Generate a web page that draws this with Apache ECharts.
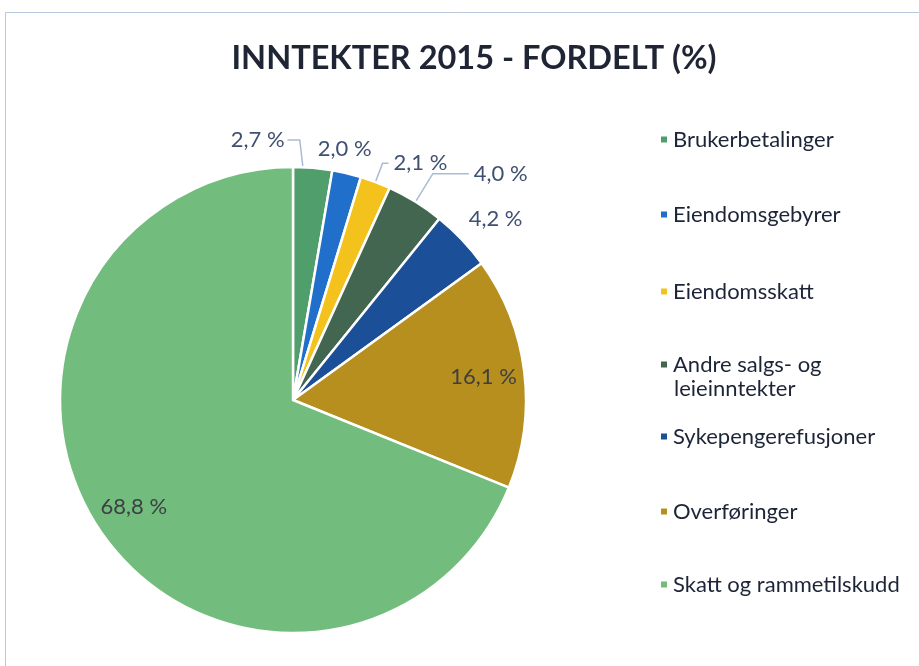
<!DOCTYPE html>
<html>
<head>
<meta charset="utf-8">
<script src="https://cdn.jsdelivr.net/npm/echarts@6/dist/echarts.min.js"></script>
<style>
  html, body { margin: 0; padding: 0; background: #fff; }
  #chart { width: 919px; height: 666px; }
</style>
</head>
<body>
<div id="chart"></div>
<script>
// data
var categories = ['Brukerbetalinger', 'Eiendomsgebyrer', 'Eiendomsskatt',
  'Andre salgs- og leieinntekter', 'Sykepengerefusjoner', 'Overføringer', 'Skatt og rammetilskudd'];
var shares = [2.7, 2.0, 2.1, 4.0, 4.2, 16.1, 68.8];
var colors = ['#4f9e6c', '#1f6fcb', '#f4c21c', '#436650', '#1b4f97', '#b68f1f', '#72bd7d'];
var legendTops = [126, 201, 278, 351, 423, 498, 571];

// etikett-justering for de små sektorene (stil, ikke data)
var labelTweak = [
  { length: 12, length2: 0, line: true, dx: -88, dy: -16, flip: true },
  { length: 0, length2: 0, line: false, dx: -34, dy: -24 },
  { length: 20, length2: 6, line: true, dx: 0, dy: 0 },
  { length: 33, length2: 36, line: true, dx: 0, dy: 0 },
  { length: 12, length2: 0, line: false, dx: -7, dy: -12 }
];

function pct(v) {
  return v.toFixed(1).replace('.', ',') + ' %';
}

var chart = echarts.init(document.getElementById('chart'));

var pieData = categories.map(function (name, i) {
  var item = { name: name, value: shares[i], itemStyle: { color: colors[i] } };
  var t = labelTweak[i];
  if (t) {
    item.labelLine = { show: t.line, length: t.length, length2: t.length2 };
  } else {
    item.label = { show: false };
    item.labelLine = { show: false };
  }
  return item;
});

var legendFont = { fontFamily: 'Lato', fontSize: 22, color: '#1c2438', lineHeight: 27 };

// egne legend-komponenter, en per kategori
var legends = categories.map(function (name, i) {
  return {
    data: [name],
    left: 659,
    top: legendTops[i],
    padding: 0,
    icon: 'rect',
    itemWidth: 8,
    itemHeight: 8,
    selectedMode: false,
    formatter: function (n) {
      return n.indexOf('Andre') === 0 ? 'Andre salgs- og' : n;
    },
    textStyle: legendFont
  };
});

var option = {
  backgroundColor: '#fff',
  title: {
    text: 'INNTEKTER 2015 - FORDELT (%)',
    left: 469,
    textAlign: 'center',
    top: 37,
    textStyle: {
      fontFamily: 'Lato',
      fontWeight: 'bold',
      fontSize: 32.5,
      color: '#1f2535'
    }
  },
  legend: legends,
  graphic: [
    {
      type: 'rect',
      shape: { x: 5.5, y: 12.5, width: 940, height: 700 },
      style: { fill: null, stroke: '#b9c7de', lineWidth: 1 },
      silent: true
    },
    {
      type: 'text',
      left: 674,
      top: legendTops[3] + 27,
      style: {
        text: 'leieinntekter',
        fontFamily: 'Lato',
        fontSize: 22,
        fill: '#1c2438'
      }
    }
  ],
  series: [
    {
      type: 'pie',
      center: [293, 400],
      radius: 233,
      data: pieData,
      startAngle: 90,
      avoidLabelOverlap: false,
      itemStyle: { borderColor: '#fff', borderWidth: 2.5 },
      label: {
        show: true,
        position: 'outside',
        formatter: function (p) { return pct(p.value); },
        fontFamily: 'Lato',
        fontSize: 22,
        color: '#3f5070'
      },
      labelLine: {
        show: true,
        lineStyle: { color: '#a9bbd6', width: 1.5 }
      },
      labelLayout: function (params) {
        var t = labelTweak[params.dataIndex];
        if (!t || params.seriesIndex !== 0) return {};
        var out = { dx: t.dx, dy: t.dy };
        if (t.flip && params.labelLinePoints) {
          // etiketten ligger til venstre: linja går fra sektoren opp til tekstens høyre kant
          var r = params.labelRect;
          var p0 = params.labelLinePoints[0];
          var ly = r.y + t.dy + r.height / 2;
          out.labelLinePoints = [
            [p0[0] - 10, p0[1] - 2],
            [p0[0] - 13, ly],
            [r.x + t.dx + r.width + 3, ly]
          ];
        }
        return out;
      },
      emphasis: { disabled: true }
    },
    {
      // kun etiketter for de store sektorene
      type: 'pie',
      center: [293, 400],
      radius: [145, 233],
      data: pieData.map(function (d) {
        return { name: d.name, value: d.value, itemStyle: { color: 'rgba(0,0,0,0)' } };
      }),
      startAngle: 90,
      silent: true,
      label: {
        show: true,
        position: 'inside',
        formatter: function (p) { return p.value >= 10 ? pct(p.value) : ''; },
        fontFamily: 'Lato',
        fontSize: 22,
        color: '#3d3f44'
      },
      labelLine: { show: false },
      emphasis: { disabled: true }
    }
  ]
};

chart.setOption(option);
</script>
</body>
</html>
